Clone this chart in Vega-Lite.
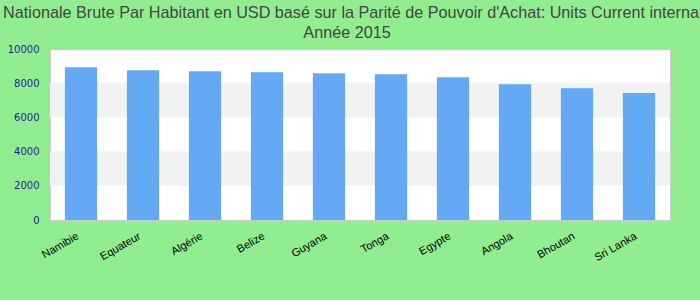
{
  "$schema": "https://vega.github.io/schema/vega-lite/v6.json",
  "width": 620,
  "height": 171,
  "autosize": "none",
  "padding": {"left": 50, "top": 49, "right": 30, "bottom": 80},
  "background": "#90EE90",
  "title": {
    "text": ["Revenu Nationale Brute Par Habitant en USD basé sur la Parité de Pouvoir d'Achat: Units Current international $", "Année 2015"],
    "font": "Liberation Sans",
    "fontSize": 16.2,
    "fontWeight": "normal",
    "color": "#444444",
    "anchor": "middle",
    "lineHeight": 20,
    "offset": 3,
    "dx": -13
  },
  "config": {
    "view": {"stroke": "#cccccc", "strokeWidth": 1, "fill": "white"},
    "axisY": {"title": null, "grid": false, "ticks": false, "domain": false, "labelPadding": 11, "labelColor": "#1e1e96", "labelFont": "DejaVu Sans", "labelFontSize": 10, "format": "d", "values": [0, 2000, 4000, 6000, 8000, 10000]},
    "axisX": {"title": null, "grid": false, "ticks": false, "domain": false, "labelAngle": -30, "labelColor": "#000000", "labelFont": "Liberation Sans", "labelFontSize": 11, "labelPadding": 10, "labelOffset": -6}
  },
  "layer": [
    {
      "data": {"values": [{"lo": 2000, "hi": 4000}, {"lo": 6000, "hi": 8000}]},
      "mark": {"type": "rect", "color": "#f2f2f2"},
      "encoding": {
        "y": {"field": "lo", "type": "quantitative", "scale": {"domain": [0, 10000], "nice": false}},
        "y2": {"field": "hi"}
      }
    },
    {
      "data": {"values": [
        {"pays": "Namibie", "valeur": 8930},
        {"pays": "Equateur", "valeur": 8760},
        {"pays": "Algérie", "valeur": 8700},
        {"pays": "Belize", "valeur": 8640},
        {"pays": "Guyana", "valeur": 8580},
        {"pays": "Tonga", "valeur": 8520},
        {"pays": "Egypte", "valeur": 8350},
        {"pays": "Angola", "valeur": 7940},
        {"pays": "Bhoutan", "valeur": 7710},
        {"pays": "Sri Lanka", "valeur": 7420}
      ]},
      "mark": {"type": "bar", "color": "#63A9F4"},
      "encoding": {
        "x": {"field": "pays", "type": "nominal", "sort": null, "scale": {"paddingInner": 0.48, "paddingOuter": 0.24}},
        "y": {"field": "valeur", "type": "quantitative"}
      }
    }
  ]
}
